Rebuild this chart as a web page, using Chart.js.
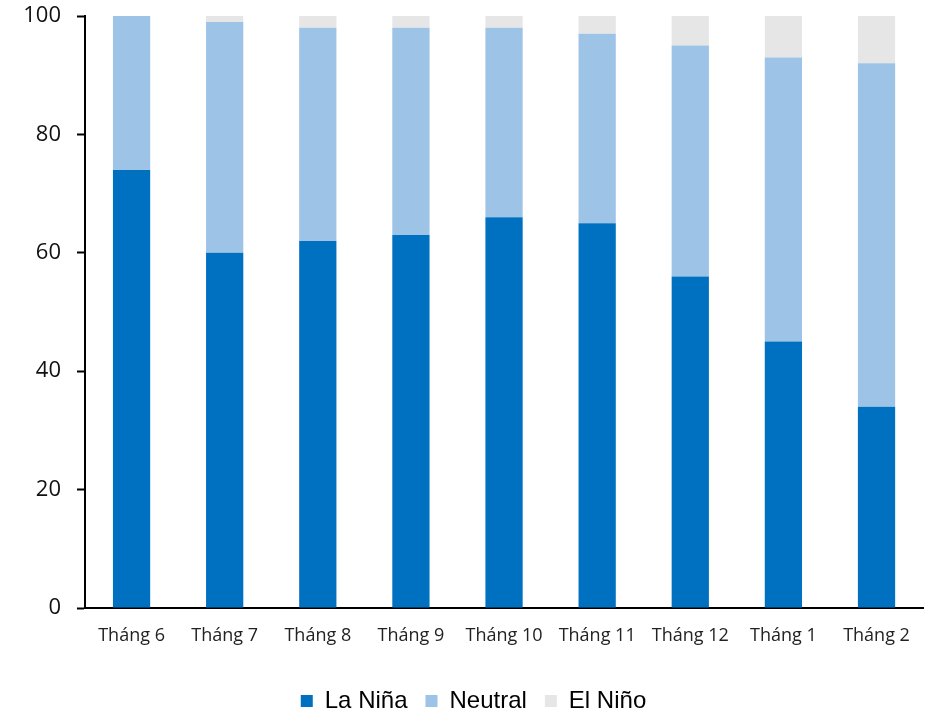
<!DOCTYPE html>
<html><head><meta charset="utf-8">
<script src="https://cdn.jsdelivr.net/npm/chart.js@4/dist/chart.umd.min.js"></script>
<style>html,body{margin:0;padding:0;background:#fff}#wrap{width:927px;height:710px}</style>
</head><body><div id="wrap"><canvas id="c" width="927" height="710"></canvas></div>
<script>
const categories = ["Tháng 6","Tháng 7","Tháng 8","Tháng 9","Tháng 10","Tháng 11","Tháng 12","Tháng 1","Tháng 2"];
const laNina = [74,60,62,63,66,65,56,45,34];
const neutral = [26,39,36,35,32,32,39,48,58];
const elNino = [0,1,2,2,2,3,5,7,8];
const yTicks = [0,20,40,60,80,100];

const axisColor = '#000';
new Chart(document.getElementById('c'), {
  type: 'bar',
  data: {
    labels: categories,
    datasets: [
      {label:'La Niña', data: laNina, backgroundColor:'#0070C0'},
      {label:'Neutral', data: neutral, backgroundColor:'#9DC3E6'},
      {label:'El Niño', data: elNino, backgroundColor:'#E6E6E6'}
    ]
  },
  options: {
    responsive:false, animation:false,
    datasets:{bar:{categoryPercentage:1, barPercentage:0.4, borderWidth:0}},
    layout:{padding:{left:22,right:2,top:16,bottom:-13}},
    plugins:{
      legend:{position:'bottom', labels:{font:{family:"'Liberation Sans', Arial, sans-serif", size:24, lineHeight:1}, color:'#000', boxWidth:12, boxHeight:12, padding:18}},
      tooltip:{enabled:false}
    },
    scales:{
      x:{stacked:true, grid:{display:false, drawOnChartArea:false, tickLength:0}, border:{color:axisColor, width:2},
         afterFit:(a)=>{a.height=63;},
         ticks:{font:{family:"'Open Sans', 'Noto Sans', sans-serif", size:18}, color:'#222', padding:17, maxRotation:0}},
      y:{stacked:true, min:0, max:100, afterBuildTicks:(ax)=>{ax.ticks = yTicks.map(v=>({value:v}));},
         afterFit:(a)=>{a.width=63; a.paddingTop=0; a.paddingBottom=0;},
         grid:{drawOnChartArea:false, tickLength:8, tickColor:axisColor, tickWidth:2}, border:{color:axisColor, width:2},
         ticks:{font:{family:"'Open Sans', 'Noto Sans', sans-serif", size:22}, color:'#111', padding:16}}
    }
  }
});
</script></body></html>
